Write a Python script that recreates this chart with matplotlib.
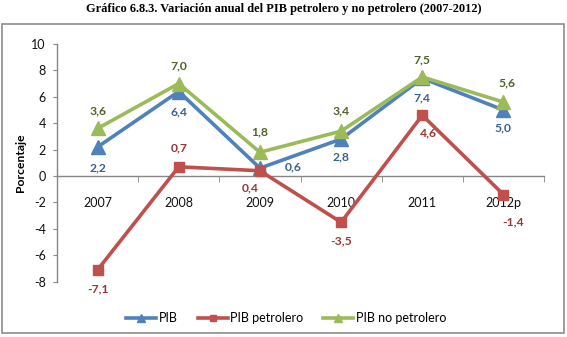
import matplotlib
matplotlib.use("Agg")
import matplotlib.pyplot as plt
from matplotlib.lines import Line2D
from matplotlib.patches import Rectangle

plt.rcParams['font.family'] = ['Lato', 'DejaVu Sans']
plt.rcParams['axes.unicode_minus'] = False

# datos (variación anual, %)
years = ['2007', '2008', '2009', '2010', '2011', '2012p']
pib = [2.2, 6.4, 0.6, 2.8, 7.4, 5.0]
pib_petrolero = [-7.1, 0.7, 0.4, -3.5, 4.6, -1.4]
pib_no_petrolero = [3.6, 7.0, 1.8, 3.4, 7.5, 5.6]

blue, red, green = '#4F81BD', '#C0504D', '#9BBB59'
blue_txt, red_txt, green_txt = '#376092', '#953735', '#4F6228'

# desplazamiento de las etiquetas en pixeles
off_pib = [(0, -21), (0, -20), (33, 1), (0, -18), (0, -20), (0, -18)]
off_pet = [(0, -19), (0, 19), (-10, -17), (0, -19), (6, -18), (10, -27)]
off_nop = [(0, 18), (0, 18), (0, 20), (0, 20), (0, 17), (4, 19)]

fig = plt.figure(figsize=(5.67, 3.37), dpi=100)
ax = fig.add_axes([0.1005, 0.164, 0.859, 0.7056])

x = list(range(len(years)))

ax.plot(x, pib, color=blue, lw=2.6, marker='^', ms=10, zorder=3)
ax.plot(x, pib_petrolero, color=red, lw=2.6, marker='s', ms=7, zorder=4)
ax.plot(x, pib_no_petrolero, color=green, lw=2.6, marker='^', ms=10, zorder=5)


def fmt(v):
    return f"{v:.1f}".replace('.', ',')


for vals, offs, col in [(pib, off_pib, blue_txt),
                        (pib_petrolero, off_pet, red_txt),
                        (pib_no_petrolero, off_nop, green_txt)]:
    for i, v in enumerate(vals):
        ax.annotate(fmt(v), (i, v), xytext=offs[i], textcoords='offset pixels',
                    ha='center', va='center', fontsize=8.7, fontweight='bold',
                    color=col, zorder=6)

ax.set_xlim(-0.5, 5.5)
ax.set_ylim(-8, 10)
ax.set_yticks(range(-8, 11, 2))
ax.set_xticks(x)
ax.set_xticklabels(years)
ax.set_xticks([i - 0.5 for i in range(len(years) + 1)], minor=True)

ax.spines['top'].set_visible(False)
ax.spines['right'].set_visible(False)
ax.spines['bottom'].set_position(('data', 0))
for s in ['left', 'bottom']:
    ax.spines[s].set_color('#868686')
    ax.spines[s].set_linewidth(1.0)

ax.tick_params(axis='x', which='major', length=0, pad=15, labelsize=9, colors='#111111')
ax.tick_params(axis='x', which='minor', length=4, direction='out', color='#868686')
ax.tick_params(axis='y', length=3, direction='out', color='#868686', pad=5,
               labelsize=9, labelcolor='#111111')

fig.text(0.037, 0.516, 'Porcentaje', rotation=90, ha='center', va='center',
         fontsize=8.7, fontweight='bold')

fig.text(0.5, 0.972, 'Gráfico 6.8.3. Variación anual del PIB petrolero y no petrolero (2007-2012)',
         ha='center', va='center', fontsize=8.9, fontweight='bold',
         family='Liberation Serif')

handles = [
    Line2D([], [], color=blue, lw=2.6, marker='^', ms=6),
    Line2D([], [], color=red, lw=2.6, marker='s', ms=5),
    Line2D([], [], color=green, lw=2.6, marker='^', ms=6),
]
fig.legend(handles, ['PIB', 'PIB petrolero', 'PIB no petrolero'],
           loc='center', bbox_to_anchor=(0.505, 0.056), ncol=3, frameon=False,
           fontsize=9, handlelength=2.4, handletextpad=0.2, columnspacing=1.6)

# marco del gráfico
fig.patches.append(Rectangle((2 / 567, 4 / 337), 562 / 567, 309 / 337,
                             transform=fig.transFigure, fill=False,
                             edgecolor='#8c8c8c', lw=1.2))

fig.savefig('out.png', dpi=100)
